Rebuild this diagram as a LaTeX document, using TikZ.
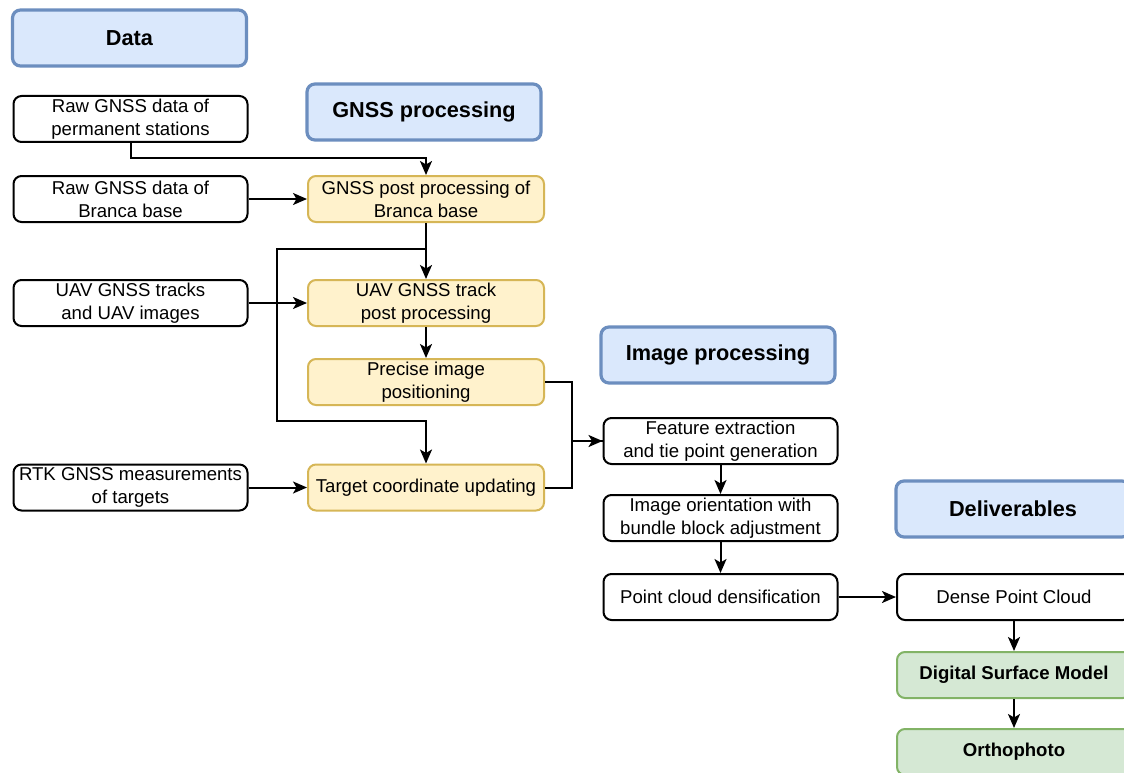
\documentclass[tikz,border=0pt]{standalone}
\usepackage{fontspec}
\setmainfont{Liberation Sans}
\usetikzlibrary{arrows.meta}
\definecolor{hdrfill}{HTML}{DAE8FC}
\definecolor{hdrdraw}{HTML}{6C8EBF}
\definecolor{yfill}{HTML}{FFF2CC}
\definecolor{ydraw}{HTML}{D6B656}
\definecolor{gfill}{HTML}{D5E8D4}
\definecolor{gdraw}{HTML}{82B366}
\tikzset{
  base/.style={rounded corners=8pt, align=center, inner sep=0pt,
    font=\fontsize{18.6}{23}\selectfont, minimum width=234pt, minimum height=46pt},
  wbox/.style={base, draw=black, line width=2pt, fill=white},
  ybox/.style={base, draw=ydraw, line width=2pt, fill=yfill, minimum width=236pt},
  gbox/.style={base, draw=gdraw, line width=2pt, fill=gfill, font=\fontsize{18.6}{23}\selectfont\bfseries},
  hdr/.style={base, draw=hdrdraw, line width=3.2pt, fill=hdrfill, minimum height=56pt,
    font=\fontsize{21.7}{26}\selectfont\bfseries},
  arr/.style={line width=2pt, -{Stealth[length=14pt,width=12pt,inset=3.5pt]}},
  ln/.style={line width=2pt}
}
\begin{document}
\begin{tikzpicture}[x=1pt,y=-1pt]
\useasboundingbox (0,0) rectangle (1124,773);
\clip (0,0) rectangle (1124,773);
\fill[white] (0,0) rectangle (1124,773);
% headers
\node[hdr] (data) at (129.5,38) {Data};
\node[hdr] (gnssh) at (424,112) {GNSS processing};
\node[hdr] (imgh) at (718,355) {Image processing};
\node[hdr] (delh) at (1013,509) {Deliverables};
% data
\node[wbox] (rawp) at (130.5,119) {Raw GNSS data of\\permanent stations};
\node[wbox] (rawb) at (130.5,199) {Raw GNSS data of\\Branca base};
\node[wbox] (uav) at (130.5,303) {UAV GNSS tracks\\and UAV images};
\node[wbox] (rtk) at (130.5,487.5) {RTK GNSS measurements\\of targets};
% gnss processing
\node[ybox] (gpp) at (426,199) {GNSS post processing of\\Branca base};
\node[ybox] (utp) at (426,303) {UAV GNSS track\\post processing};
\node[ybox] (pip) at (426,382) {Precise image\\positioning};
\node[ybox] (tcu) at (426,487.5) {Target coordinate updating};
% image processing
\node[wbox] (fe) at (720.5,441) {Feature extraction\\and tie point generation};
\node[wbox] (io) at (720.5,518) {Image orientation with\\bundle block adjustment};
\node[wbox] (pcd) at (720.5,597) {Point cloud densification};
% deliverables
\node[wbox] (dpc) at (1014,597) {Dense Point Cloud};
\node[gbox] (dsm) at (1014,675) {Digital Surface Model};
\node[gbox] (ortho) at (1014,752) {Orthophoto};
% connectors
\coordinate (j1) at (277,249);
\coordinate (j2) at (277,421);
\draw[arr] (rawp.south) -- ++(0,15) -| (gpp.north);
\draw[arr] (rawb.east) -- (gpp.west);
\draw[arr] (gpp.south) -- (utp.north);
\draw[arr] (gpp.south) |- (j1) -- (j2) -| (tcu.north);
\draw[arr] (uav.east) -- (utp.west);
\draw[arr] (utp.south) -- (pip.north);
\draw[arr] (rtk.east) -- (tcu.west);
\draw[arr] (pip.east) -- ++(27,0) |- (fe.west);
\draw[ln] (tcu.east) -- ++(27,0) |- (fe.west);
\draw[arr] (fe.south) -- (io.north);
\draw[arr] (io.south) -- (pcd.north);
\draw[arr] (pcd.east) -- (dpc.west);
\draw[arr] (dpc.south) -- (dsm.north);
\draw[arr] (dsm.south) -- (ortho.north);
\end{tikzpicture}
\end{document}
